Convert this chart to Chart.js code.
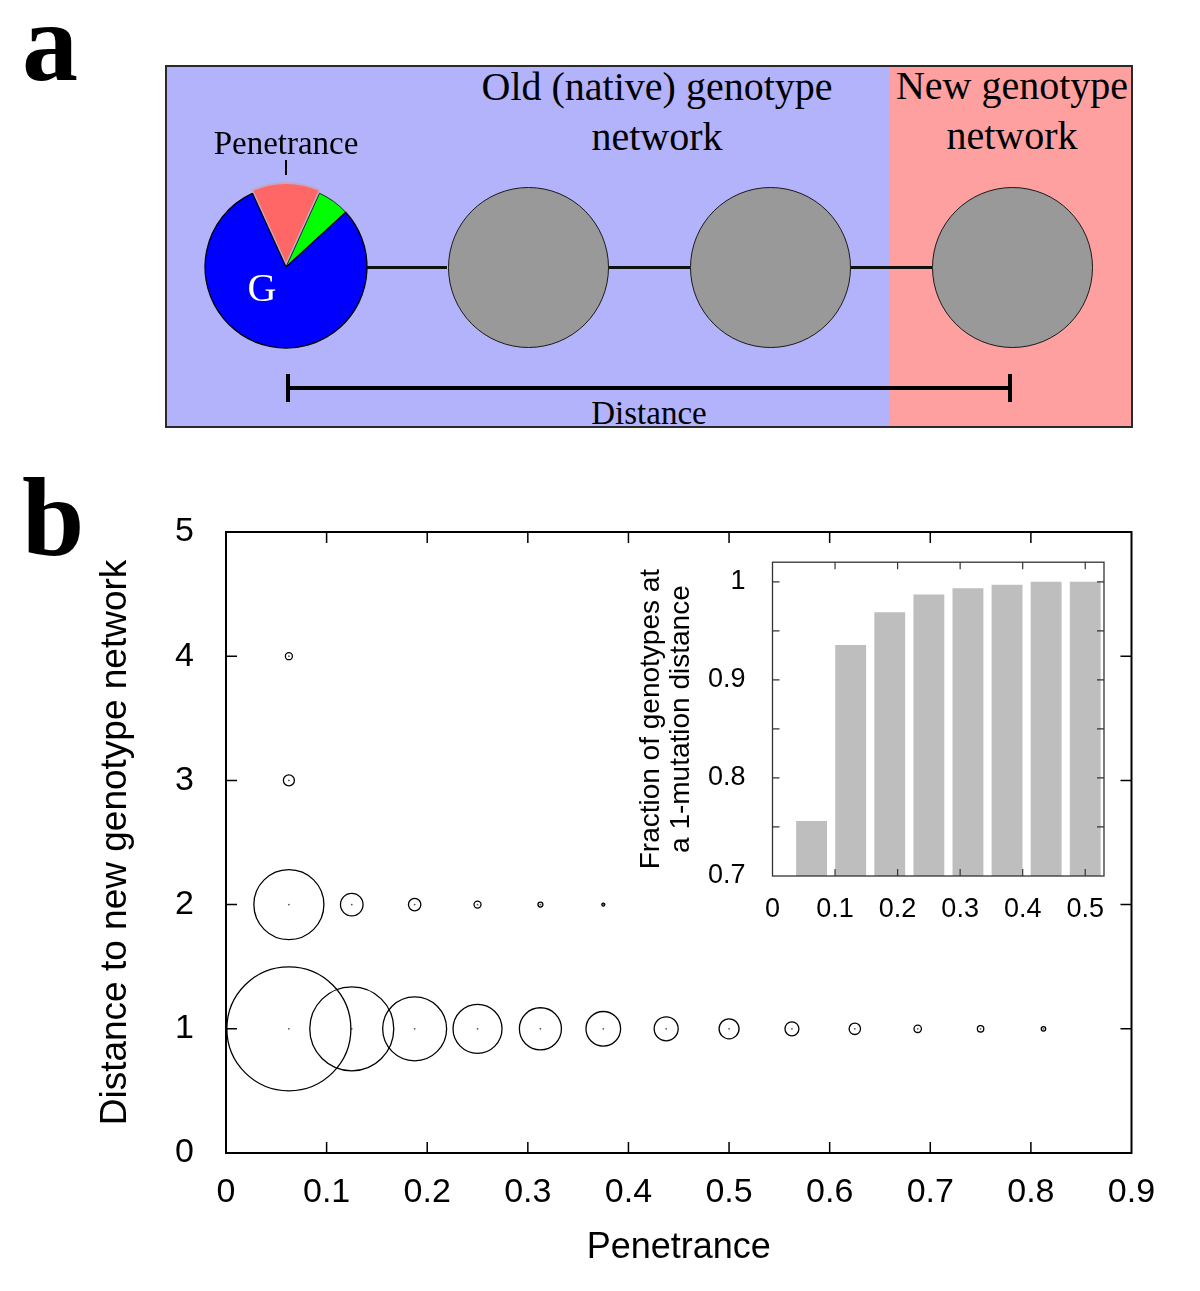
<!DOCTYPE html>
<html>
<head>
<meta charset="utf-8">
<title>Penetrance and distance to a new genotype network</title>
<script src="https://cdn.jsdelivr.net/npm/chart.js@4.4.1/dist/chart.umd.min.js"></script>
<style>
  html, body { margin: 0; padding: 0; background: #fff; }
  body { width: 1200px; height: 1291px; position: relative; overflow: hidden;
         font-family: 'Liberation Serif', 'Times New Roman', serif; color: #000; }
  .abs { position: absolute; }
  .letter { font-weight: bold; font-size: 112px; line-height: 112px; }
  #boxA { left: 165px; top: 65px; width: 968px; height: 363px; box-sizing: border-box;
          border: 2px solid #2a2a2a; background: #b3b3fc; overflow: hidden; }
  #newZone { left: 723px; top: 0; right: 0; bottom: 0; background: #ffa0a0; }
  .node { width: 161px; height: 161px; box-sizing: border-box; border-radius: 50%;
          background: #999; border: 1.5px solid #1a1a1a; top: 186.5px; }
  .edge { height: 3px; background: #111; top: 265.5px; }
  .bar { background: #000; }
  .lbl { white-space: nowrap; text-align: center; }
</style>
</head>
<body>

<!-- panel a : schematic -->
<div class="abs letter" style="left:22px; top:-14px;">a</div>
<div class="abs" id="boxA"><div class="abs" id="newZone"></div></div>

<div class="abs edge" style="left:367px; width:80px;"></div>
<div class="abs edge" style="left:608px; width:82px;"></div>
<div class="abs edge" style="left:850px; width:82px;"></div>

<div class="abs node" style="left:447.5px;"></div>
<div class="abs node" style="left:689.5px;"></div>
<div class="abs node" style="left:931.5px;"></div>

<canvas id="pie" class="abs" width="200" height="200" style="left:186px; top:167px;"></canvas>
<div class="abs lbl" style="left:187px; width:150px; top:268px; font-size:40px; line-height:40px; color:#fff;">G</div>
<div class="abs bar" style="left:285px; top:160px; width:2px; height:15px;"></div>
<div class="abs lbl" style="left:186px; width:200px; top:127px; font-size:33px; line-height:33px;">Penetrance</div>

<div class="abs lbl" style="left:457px; width:400px; top:62px; font-size:40px; line-height:50px;">Old (native) genotype<br>network</div>
<div class="abs lbl" style="left:862px; width:300px; top:61px; font-size:40px; line-height:50px;">New genotype<br>network</div>

<div class="abs bar" style="left:288px; top:386px; width:722px; height:4px;"></div>
<div class="abs bar" style="left:286px; top:374px; width:4px; height:28px;"></div>
<div class="abs bar" style="left:1008px; top:374px; width:4px; height:28px;"></div>
<div class="abs lbl" style="left:549px; width:200px; top:397px; font-size:33px; line-height:33px;">Distance</div>

<!-- panel b : charts -->
<div class="abs letter" style="left:22px; top:461px;">b</div>
<canvas id="main" class="abs" width="1200" height="804" style="left:0; top:487px;"></canvas>
<canvas id="inset" class="abs" width="500" height="413" style="left:620px; top:527px;"></canvas>

<script>
// ---- data ----
// pie in panel a (degrees of the circle)
const pieParts = ['penetrance', 'other', 'rest'];
const pieDegrees = [49, 23, 288];

// main bubble chart: penetrance levels on x, distance rows on y
const penetranceLevels = [0.0625, 0.125, 0.1875, 0.25, 0.3125, 0.375, 0.4375, 0.5, 0.5625, 0.625, 0.6875, 0.75, 0.8125];
const distances = [1, 2, 3, 4];
// relative frequency (bubble area, largest = 1)
const shareDist1 = [1.000, 0.459, 0.266, 0.156, 0.115, 0.078, 0.0375, 0.026, 0.0127, 0.0085, 0.0036, 0.0027, 0.0013];
const shareDist2 = [0.319, 0.0332, 0.0100, 0.0032, 0.0016, 0.0006];
const shareDist3 = [0.0079];
const shareDist4 = [0.0032];
const mainXTicks = [0, 0.1, 0.2, 0.3, 0.4, 0.5, 0.6, 0.7, 0.8, 0.9];
const mainYTicks = [0, 1, 2, 3, 4, 5];

// inset bar chart
const insetPenetrance = [0.0625, 0.125, 0.1875, 0.25, 0.3125, 0.375, 0.4375, 0.5];
const insetFraction = [0.756, 0.9355, 0.969, 0.987, 0.9935, 0.997, 1.0, 1.0];
const insetXTicks = [0, 0.1, 0.2, 0.3, 0.4, 0.5];
const insetYTicks = [0.7, 0.8, 0.9, 1];
const insetYMinor = [0.75, 0.8, 0.85, 0.9, 0.95, 1];

// ---- style ----
const R_MAX = 62; // px radius for share = 1
Chart.defaults.font.family = "'Liberation Sans', Arial, Helvetica, sans-serif";
Chart.defaults.color = '#000';

// frame + inward ticks on every side
const frameTicks = {
  id: 'frameTicks',
  afterDatasetsDraw(chart, args, opts) {
    const { ctx, chartArea: a, scales: { x, y } } = chart;
    ctx.save();
    ctx.strokeStyle = opts.color;
    ctx.lineWidth = opts.tickWidth;
    ctx.beginPath();
    opts.xTicks.forEach(v => {
      const px = x.getPixelForValue(v);
      ctx.moveTo(px, a.bottom); ctx.lineTo(px, a.bottom - opts.len);
      ctx.moveTo(px, a.top); ctx.lineTo(px, a.top + opts.len);
    });
    opts.yTicks.forEach(v => {
      const py = y.getPixelForValue(v);
      ctx.moveTo(a.left, py); ctx.lineTo(a.left + opts.len, py);
      ctx.moveTo(a.right, py); ctx.lineTo(a.right - opts.len, py);
    });
    ctx.stroke();
    ctx.lineWidth = opts.frameWidth;
    ctx.strokeRect(a.left, a.top, a.width, a.height);
    ctx.restore();
  }
};

function setTicks(list) {
  return scale => { scale.ticks = list.map(v => ({ value: v })); };
}

// ---- panel a pie ----
new Chart(document.getElementById('pie'), {
  type: 'pie',
  data: {
    labels: pieParts,
    datasets: [{
      data: pieDegrees,
      backgroundColor: ['#ff6666', '#00ff00', '#0000ff'],
      borderColor: ['#c4a6c6', '#222', '#000'],
      borderWidth: [2, 1, 1.3],
      offset: [10, 0, 0]
    }]
  },
  options: {
    responsive: false, animation: false, events: [],
    rotation: -24.5,
    layout: { padding: 13 },
    plugins: { legend: { display: false }, tooltip: { enabled: false } }
  }
});

// ---- main bubble chart ----
const rows = [shareDist1, shareDist2, shareDist3, shareDist4];
const bubbles = [];
rows.forEach((shares, k) => {
  shares.forEach((s, i) => {
    bubbles.push({ x: penetranceLevels[i], y: distances[k], r: R_MAX * Math.sqrt(s) });
  });
});
const centres = bubbles.map(b => ({ x: b.x, y: b.y }));

new Chart(document.getElementById('main'), {
  type: 'bubble',
  data: {
    datasets: [
      { data: bubbles, backgroundColor: 'rgba(0,0,0,0)', borderColor: '#000', borderWidth: 1.3 },
      { type: 'scatter', data: centres, pointRadius: 0.9, backgroundColor: '#555', borderWidth: 0 }
    ]
  },
  options: {
    responsive: false, animation: false, events: [],
    layout: { autoPadding: false, padding: { top: 45, right: 68.5, left: 0, bottom: 0 } },
    plugins: {
      legend: { display: false }, tooltip: { enabled: false },
      frameTicks: { color: '#000', tickWidth: 1.5, frameWidth: 2, len: 11,
                    xTicks: mainXTicks.slice(1, -1), yTicks: mainYTicks.slice(1, -1) }
    },
    scales: {
      x: {
        type: 'linear', min: 0, max: 0.9,
        afterBuildTicks: setTicks(mainXTicks),
        afterFit: s => { s.height = 138; },
        grid: { display: false }, border: { display: false },
        ticks: { padding: 11, font: { size: 34 }, maxRotation: 0, autoSkip: false, callback: v => String(v) },
        title: { display: true, text: 'Penetrance', font: { size: 36 }, padding: { top: 0, bottom: 21 } }
      },
      y: {
        type: 'linear', min: 0, max: 5,
        afterBuildTicks: setTicks(mainYTicks),
        afterFit: s => { s.width = 226; },
        grid: { display: false }, border: { display: false },
        ticks: { padding: 24, font: { size: 34 }, callback: v => String(v) },
        title: { display: true, text: 'Distance to new genotype network', font: { size: 37 }, padding: { top: 94, bottom: 0 } }
      }
    }
  },
  plugins: [frameTicks]
});

// ---- inset bar chart ----
new Chart(document.getElementById('inset'), {
  type: 'bar',
  data: {
    datasets: [{
      data: insetPenetrance.map((p, i) => ({ x: p, y: insetFraction[i] })),
      backgroundColor: '#bebebe', borderWidth: 0,
      barPercentage: 0.79, categoryPercentage: 1
    }]
  },
  options: {
    responsive: false, animation: false, events: [],
    layout: { autoPadding: false, padding: { top: 0, right: 16, left: 0, bottom: 0 } },
    plugins: {
      legend: { display: false }, tooltip: { enabled: false },
      frameTicks: { color: '#333', tickWidth: 1.2, frameWidth: 1.3, len: 7,
                    xTicks: insetXTicks.slice(1), yTicks: insetYMinor }
    },
    scales: {
      x: {
        type: 'linear', min: 0, max: 0.53, offset: false,
        afterBuildTicks: setTicks(insetXTicks),
        afterFit: s => { s.height = 64; },
        grid: { display: false }, border: { display: false },
        ticks: { padding: 9, font: { size: 27 }, maxRotation: 0, autoSkip: false, callback: v => String(v) }
      },
      y: {
        type: 'linear', min: 0.7, max: 1.02, beginAtZero: false,
        afterBuildTicks: setTicks(insetYTicks),
        afterFit: s => { s.width = 152.5; },
        grid: { display: false }, border: { display: false },
        ticks: { padding: 19, font: { size: 27 }, callback: v => String(v) },
        title: { display: true, text: ['Fraction of genotypes at', 'a 1-mutation distance'],
                 font: { size: 28, lineHeight: 1.07 }, padding: { top: 16.5, bottom: 0 } }
      }
    }
  },
  plugins: [frameTicks]
});
</script>
</body>
</html>
